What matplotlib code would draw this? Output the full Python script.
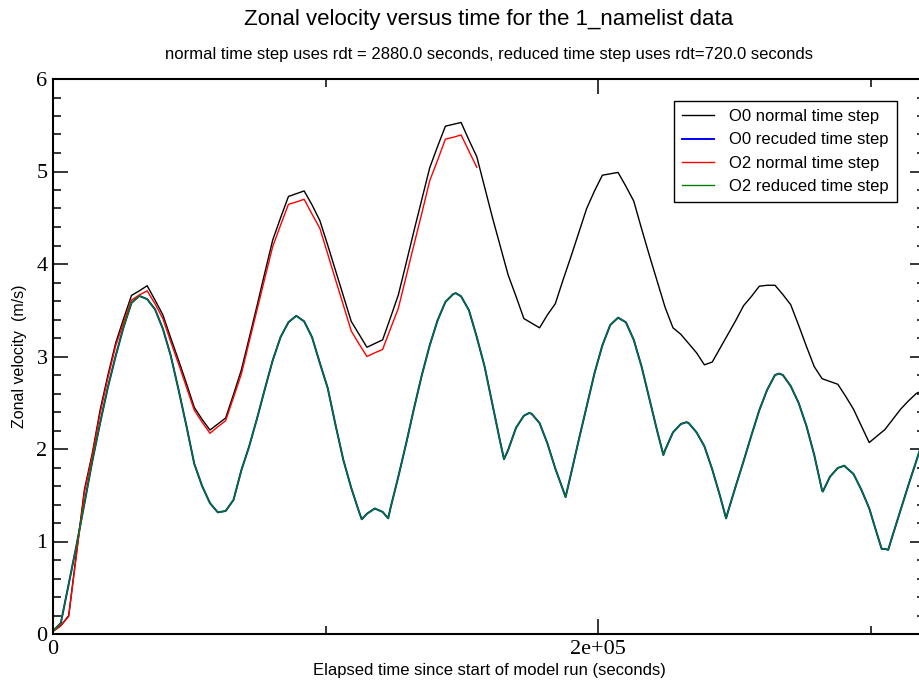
import numpy as np
import matplotlib
matplotlib.use("Agg")
import matplotlib.pyplot as plt
from matplotlib.ticker import MultipleLocator, FuncFormatter

# output interval of the runs (seconds)
step = 2880

# O0 / O2 with the normal time step (rdt = 2880 s)
o0_normal = [
    0.03, 0.09, 0.20, 0.88, 1.56, 1.95, 2.42, 2.80, 3.15, 3.41,
    3.66, 3.71, 3.765, 3.61, 3.45, 3.20, 2.96, 2.71, 2.45, 2.32,
    2.205, 2.27, 2.335, 2.59, 2.855, 3.20, 3.55, 3.91, 4.26, 4.50,
    4.73, 4.76, 4.79, 4.64, 4.47, 4.205, 3.93, 3.655, 3.38, 3.24,
    3.10, 3.14, 3.18, 3.42, 3.665, 4.01, 4.36, 4.70, 5.04, 5.27,
    5.49, 5.51, 5.53, 5.34, 5.16, 4.83, 4.50, 4.19, 3.88, 3.65,
    3.41, 3.36, 3.31, 3.45, 3.57, 3.83, 4.08, 4.34, 4.60, 4.79,
    4.96, 4.975, 4.99, 4.84, 4.68, 4.38, 4.09, 3.81, 3.53, 3.31,
    3.24, 3.14, 3.04, 2.91, 2.94, 3.09, 3.24, 3.39, 3.55, 3.65,
    3.76, 3.77, 3.77, 3.67, 3.56, 3.34, 3.11, 2.89, 2.76, 2.73,
    2.70, 2.57, 2.43, 2.25, 2.07, 2.14, 2.21, 2.32, 2.43, 2.52,
    2.60, 2.64,
]
o2_normal = [
    0.03, 0.09, 0.19, 0.865, 1.53, 1.93, 2.386, 2.77, 3.12, 3.37,
    3.61, 3.665, 3.71, 3.57, 3.41, 3.16, 2.92, 2.67, 2.42, 2.29,
    2.17, 2.24, 2.306, 2.557, 2.81, 3.16, 3.505, 3.85, 4.19, 4.42,
    4.645, 4.67, 4.70, 4.54, 4.386, 4.11, 3.83, 3.555, 3.276, 3.135,
    3.00, 3.04, 3.076, 3.30, 3.52, 3.865, 4.21, 4.55, 4.90, 5.12,
    5.35, 5.37, 5.395, 5.22, 5.045,
]

# reduced time step (rdt = 720 s), same for O0 and O2
reduced = [
    0.03, 0.12, 0.54, 0.96, 1.41, 1.865, 2.28, 2.67, 3.01, 3.32,
    3.58, 3.655, 3.62, 3.51, 3.30, 3.01, 2.64, 2.25, 1.84, 1.60,
    1.415, 1.315, 1.33, 1.45, 1.77, 2.03, 2.33, 2.65, 2.96, 3.21,
    3.37, 3.44, 3.38, 3.21, 2.93, 2.66, 2.26, 1.88, 1.58, 1.32,
    1.30, 1.357, 1.32, 1.36, 1.70, 2.06, 2.44, 2.80, 3.12, 3.39,
    3.59, 3.675, 3.65, 3.50, 3.21, 2.89, 2.48, 2.07, 1.99, 2.23,
    2.36, 2.38, 2.28, 2.06, 1.79, 1.556, 1.73, 2.10, 2.46, 2.82,
    3.12, 3.34, 3.42, 3.37, 3.18, 2.89, 2.54, 2.19, 1.99, 2.18,
    2.27, 2.28, 2.18, 2.03, 1.78, 1.49, 1.32, 1.60, 1.87, 2.15,
    2.42, 2.64, 2.80, 2.80, 2.68, 2.50, 2.25, 1.935, 1.55, 1.70,
    1.795, 1.805, 1.73, 1.56, 1.36, 1.08, 0.92, 1.07, 1.34, 1.61,
    1.87, 2.13,
]
# cusps and crests of the reduced runs that fall between output points
extra_t = [113300, 123000, 147800, 165500, 174800, 188100, 224000, 232500,
           247000, 266500, 282500, 290400, 304100, 306500]
extra_v = [1.24, 1.25, 3.685, 1.89, 2.39, 1.48, 1.935, 2.29,
           1.25, 2.815, 1.54, 1.82, 0.92, 0.91]

t_normal = np.arange(len(o0_normal)) * step
t_o2 = np.arange(len(o2_normal)) * step
t_red = np.concatenate([np.arange(len(reduced)) * step, extra_t])
v_red = np.concatenate([reduced, extra_v])
order = np.argsort(t_red)
t_red, v_red = t_red[order], v_red[order]

plt.rcParams['font.family'] = ['Liberation Sans', 'DejaVu Sans']

fig = plt.figure(figsize=(9.19, 6.86), dpi=100)
ax = fig.add_axes([53/919, 52/686, 872/919, 555/686])

ax.plot(t_normal, o0_normal, color='black', lw=1.0, label='O0 normal time step')
ax.plot(t_red, v_red, color='#0000ff', lw=1.4, label='O0 recuded time step')
ax.plot(t_o2, o2_normal, color='#ff0000', lw=1.0, label='O2 normal time step')
ax.plot(t_red, v_red, color='#008000', lw=1.0, label='O2 reduced time step')

ax.set_xlim(0, 3.2e5)
ax.set_ylim(0, 6)
ax.xaxis.set_major_locator(MultipleLocator(2e5))
ax.xaxis.set_minor_locator(MultipleLocator(1e5))
ax.yaxis.set_major_locator(MultipleLocator(1))
ax.yaxis.set_minor_locator(MultipleLocator(0.2))
ax.xaxis.set_major_formatter(FuncFormatter(lambda v, p: '0' if v == 0 else f'{v:.0e}'))
ax.yaxis.set_major_formatter(FuncFormatter(lambda v, p: f'{v:.0f}'))

ax.tick_params(which='both', direction='in', top=True, right=True, width=1.1, pad=4)
ax.tick_params(which='major', length=11)
ax.tick_params(which='minor', length=5.8)
for lab in ax.get_xticklabels() + ax.get_yticklabels():
    lab.set_fontfamily('Liberation Serif')
    lab.set_fontsize(16)
for s in ax.spines.values():
    s.set_linewidth(1.5)

ax.set_xlabel('Elapsed time since start of model run (seconds)', fontsize=12, labelpad=3)
ax.set_ylabel('Zonal velocity  (m/s)', fontsize=11.5, labelpad=7)

fig.text(489/919, 1 - 20/686, 'Zonal velocity versus time for the 1_namelist data',
         ha='center', va='center', fontsize=16)
fig.text(489/919, 1 - 55/686,
         'normal time step uses rdt = 2880.0 seconds, reduced time step uses rdt=720.0 seconds',
         ha='center', va='center', fontsize=12)

leg = ax.legend(loc='upper right', bbox_to_anchor=(897/919, 1 - 100.7/686),
                bbox_transform=fig.transFigure, borderaxespad=0, fontsize=12,
                fancybox=False, framealpha=1, edgecolor='black',
                handlelength=1.9, handletextpad=0.9, labelspacing=0.5, borderpad=0.5)
leg.get_frame().set_linewidth(1.0)

fig.savefig('out.png', dpi=100)
